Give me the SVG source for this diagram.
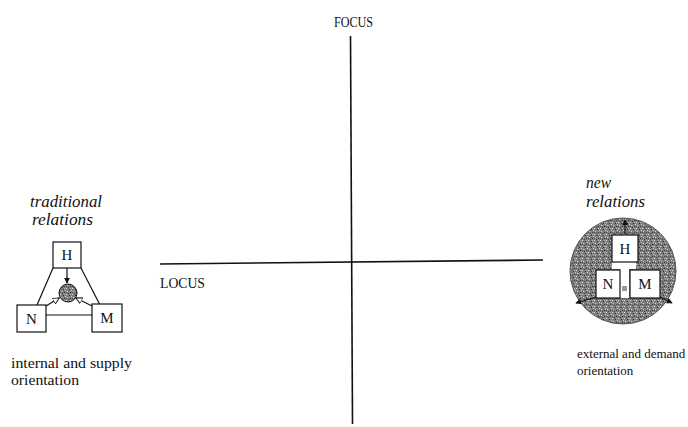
<svg xmlns="http://www.w3.org/2000/svg" width="688" height="427" viewBox="0 0 688 427">
<style>
.t{font-family:"Liberation Serif","Times New Roman",serif;fill:#111}
.lbl{font-size:14px}
.lbs{font-size:13px}
.it{font-size:16px;font-style:italic}
.box{fill:#fff;stroke:#111;stroke-width:1.2}
.ln{stroke:#111;stroke-width:1.2;fill:none}
.ax{stroke:#111;stroke-width:1.6;fill:none}
.bx{font-family:"Liberation Serif","Times New Roman",serif;font-size:15px;fill:#111;text-anchor:middle}
</style>
<defs>
<pattern id="stip" width="6" height="6" patternUnits="userSpaceOnUse">
<rect width="6" height="6" fill="#7e7e7e"/>
<rect x="0" y="0" width="1" height="1" fill="#e0e0e0"/>
<rect x="3" y="1" width="1" height="1" fill="#2a2a2a"/>
<rect x="1" y="3" width="1" height="1" fill="#d0d0d0"/>
<rect x="4" y="4" width="1" height="1" fill="#333"/>
<rect x="5" y="2" width="1" height="1" fill="#ccc"/>
<rect x="2" y="5" width="1" height="1" fill="#444"/>
<rect x="0" y="4" width="1" height="1" fill="#555"/>
<rect x="4" y="0" width="1" height="1" fill="#bbb"/>
</pattern>
<marker id="fa" viewBox="0 0 8 8" refX="7" refY="4" markerWidth="5" markerHeight="5" orient="auto">
<path d="M0,0 L8,4 L0,8 z" fill="#111"/>
</marker>
<marker id="oa" viewBox="0 0 8 8" refX="7" refY="4" markerWidth="6" markerHeight="6" orient="auto">
<path d="M0,0.5 L7.5,4 L0,7.5 z" fill="#fff" stroke="#111" stroke-width="1"/>
</marker>
</defs>

<g id="axes">
<line class="ax" x1="350.5" y1="36" x2="352.5" y2="424"/>
<line class="ax" x1="160" y1="264" x2="543" y2="260"/>
<text class="t lbl" x="334" y="27" textLength="39" lengthAdjust="spacingAndGlyphs">FOCUS</text>
<text class="t lbl" x="160" y="288" textLength="45" lengthAdjust="spacingAndGlyphs">LOCUS</text>
</g>

<g id="traditional">
<text class="t it" x="30" y="207" textLength="72" lengthAdjust="spacingAndGlyphs">traditional</text>
<text class="t it" x="32" y="225" textLength="61" lengthAdjust="spacingAndGlyphs">relations</text>
<g id="connectors-left">
<line class="ln" x1="53" y1="268" x2="37" y2="305"/>
<line class="ln" x1="81" y1="268" x2="100" y2="305"/>
<line class="ln" x1="46" y1="315" x2="92" y2="315"/>
<line class="ln" x1="67" y1="268" x2="67" y2="283" marker-end="url(#fa)"/>
<line class="ln" x1="46" y1="306" x2="59" y2="298" marker-end="url(#oa)"/>
<line class="ln" x1="92" y1="306" x2="76" y2="298" marker-end="url(#oa)"/>
</g>
<circle cx="68" cy="293" r="9" fill="url(#stip)" stroke="#111" stroke-width="1"/>
<g id="tH"><rect class="box" x="53" y="242" width="28" height="26"/><text class="bx" x="67" y="260">H</text></g>
<g id="tN"><rect class="box" x="17" y="305" width="29" height="27"/><text class="bx" x="31.5" y="324">N</text></g>
<g id="tM"><rect class="box" x="92" y="304" width="30" height="28"/><text class="bx" x="107" y="323">M</text></g>
<text class="t lbl" x="11" y="368" textLength="121" lengthAdjust="spacingAndGlyphs">internal and supply</text>
<text class="t lbl" x="11" y="385" textLength="68" lengthAdjust="spacingAndGlyphs">orientation</text>
</g>

<g id="new">
<text class="t it" x="586" y="188" textLength="25" lengthAdjust="spacingAndGlyphs">new</text>
<text class="t it" x="586" y="207" textLength="59" lengthAdjust="spacingAndGlyphs">relations</text>
<circle cx="623" cy="271" r="53" fill="url(#stip)" stroke="#555" stroke-width="1"/>
<g id="connectors-right">
<rect x="612" y="262" width="24" height="7" fill="#fff"/>
<rect x="620" y="262" width="9" height="36" fill="#fff"/>
<rect x="622" y="286" width="5" height="5" fill="#999"/>
<line class="ln" x1="625" y1="234" x2="625" y2="220" marker-end="url(#fa)"/>
<line class="ln" x1="596" y1="297" x2="576" y2="303" marker-end="url(#fa)"/>
<line class="ln" x1="660" y1="297" x2="672" y2="303" marker-end="url(#fa)"/>
</g>
<g id="nH"><rect class="box" x="612" y="235" width="26" height="27"/><text class="bx" x="625" y="254">H</text></g>
<g id="nN"><rect class="box" x="596" y="270" width="24" height="28"/><text class="bx" x="608" y="289">N</text></g>
<g id="nM"><rect class="box" x="630" y="270" width="30" height="28"/><text class="bx" x="645" y="289">M</text></g>
<text class="t lbs" x="577" y="358">external and demand</text>
<text class="t lbs" x="577" y="375">orientation</text>
</g>
</svg>
